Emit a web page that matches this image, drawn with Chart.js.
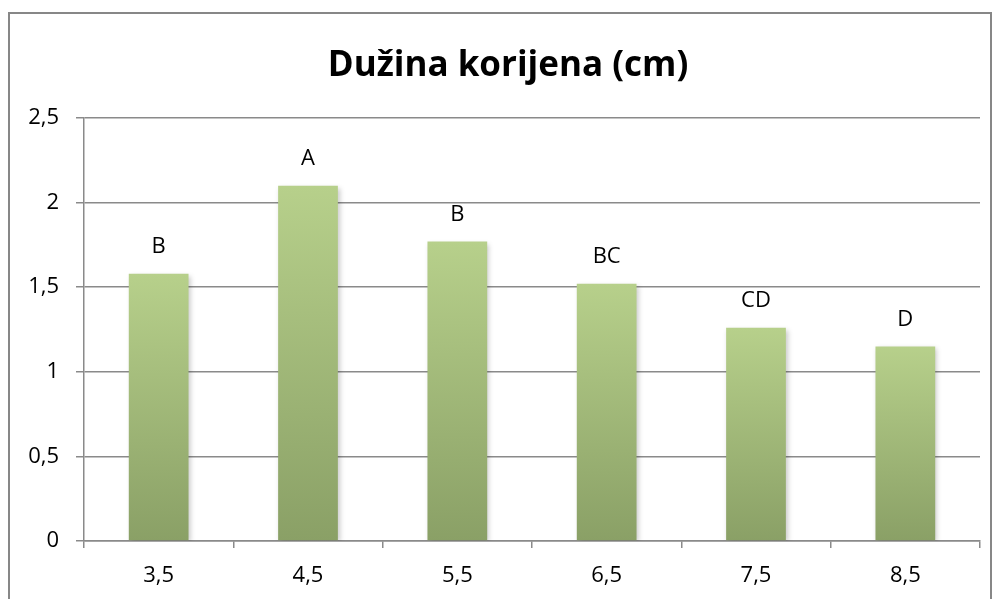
<!DOCTYPE html>
<html>
<head>
<meta charset="utf-8">
<script src="https://cdn.jsdelivr.net/npm/chart.js@4.4.1/dist/chart.umd.min.js"></script>
<style>
  html, body { margin: 0; padding: 0; background: #fff; }
  #wrap { position: relative; width: 995px; height: 599px; overflow: hidden; }
  #frame { position: absolute; left: 8px; top: 12px; width: 984px; height: 620px; border: 2px solid #878787; box-sizing: border-box; }
  canvas { position: absolute; left: 0; top: 0; }
</style>
</head>
<body>
<div id="wrap">
  <div id="frame"></div>
  <canvas id="c" width="995" height="599"></canvas>
</div>
<script>
const categories = ["3,5", "4,5", "5,5", "6,5", "7,5", "8,5"];
const rootLength = [1.58, 2.10, 1.77, 1.52, 1.26, 1.15];
const letters = ["B", "A", "B", "BC", "CD", "D"];
const yTicks = [0, 0.5, 1, 1.5, 2, 2.5];

const FONT = "'Open Sans', 'DejaVu Sans', sans-serif";

function barGradient(ctx) {
  const chart = ctx.chart;
  if (!chart.chartArea || ctx.type !== 'data') return '#a8c27d';
  const y = chart.scales.y;
  const top = y.getPixelForValue(ctx.raw);
  const base = y.getPixelForValue(0);
  const g = chart.ctx.createLinearGradient(0, top, 0, base);
  g.addColorStop(0, '#b7d08b');
  g.addColorStop(1, '#8aa066');
  return g;
}

const letterPlugin = {
  id: 'letters',
  afterDatasetsDraw(chart) {
    const ctx = chart.ctx;
    const meta = chart.getDatasetMeta(0);
    ctx.save();
    ctx.font = "22px " + FONT;
    ctx.fillStyle = '#000';
    ctx.textAlign = 'center';
    ctx.textBaseline = 'middle';
    meta.data.forEach((el, i) => {
      ctx.fillText(letters[i], el.x, el.y - 27);
    });
    ctx.restore();
  }
};

const shadowPlugin = {
  id: 'shadow',
  beforeDatasetsDraw(chart) {
    const ctx = chart.ctx;
    ctx.save();
    ctx.shadowColor = 'rgba(0,0,0,0.22)';
    ctx.shadowBlur = 5;
    ctx.shadowOffsetX = 2;
    ctx.shadowOffsetY = 2;
  },
  afterDatasetsDraw(chart) {
    chart.ctx.restore();
  }
};

const titleShift = {
  id: 'titleShift',
  afterLayout(chart) {
    const t = chart.titleBlock;
    if (t) { t.left += 36; }
  }
};

new Chart(document.getElementById('c'), {
  type: 'bar',
  data: {
    labels: categories,
    datasets: [{
      data: rootLength,
      backgroundColor: barGradient,
      borderWidth: 0,
      categoryPercentage: 0.4,
      barPercentage: 1.0
    }]
  },
  options: {
    responsive: false,
    animation: false,
    devicePixelRatio: 1,
    layout: { padding: { left: 0, right: 15, top: 0, bottom: 0 } },
    plugins: {
      legend: { display: false },
      tooltip: { enabled: false },
      title: {
        display: true,
        text: 'Dužina korijena (cm)',
        color: '#000',
        font: { family: FONT, size: 35, weight: 'bold', lineHeight: 1.2 },
        padding: { top: 45, bottom: 31 }
      }
    },
    scales: {
      y: {
        min: 0,
        max: 2.5,
        afterBuildTicks(s) { s.ticks = yTicks.map(v => ({ value: v })); },
        afterFit(s) { s.width = 84; },
        ticks: {
          color: '#000',
          font: { family: FONT, size: 22 },
          padding: 17,
          callback: v => String(v).replace('.', ',')
        },
        grid: { color: '#8a8a8a', lineWidth: 1.5, tickLength: 8, drawTicks: true },
        border: { display: true, color: '#8a8a8a', width: 1.5 }
      },
      x: {
        afterFit(s) { s.height = 58; },
        ticks: {
          color: '#000',
          font: { family: FONT, size: 22 },
          padding: 15
        },
        grid: { offset: true, drawOnChartArea: false, drawTicks: true, tickLength: 7, color: '#8a8a8a', lineWidth: 1.5 },
        border: { display: true, color: '#8a8a8a', width: 1.5 }
      }
    }
  },
  plugins: [shadowPlugin, letterPlugin, titleShift]
});
</script>
</body>
</html>
